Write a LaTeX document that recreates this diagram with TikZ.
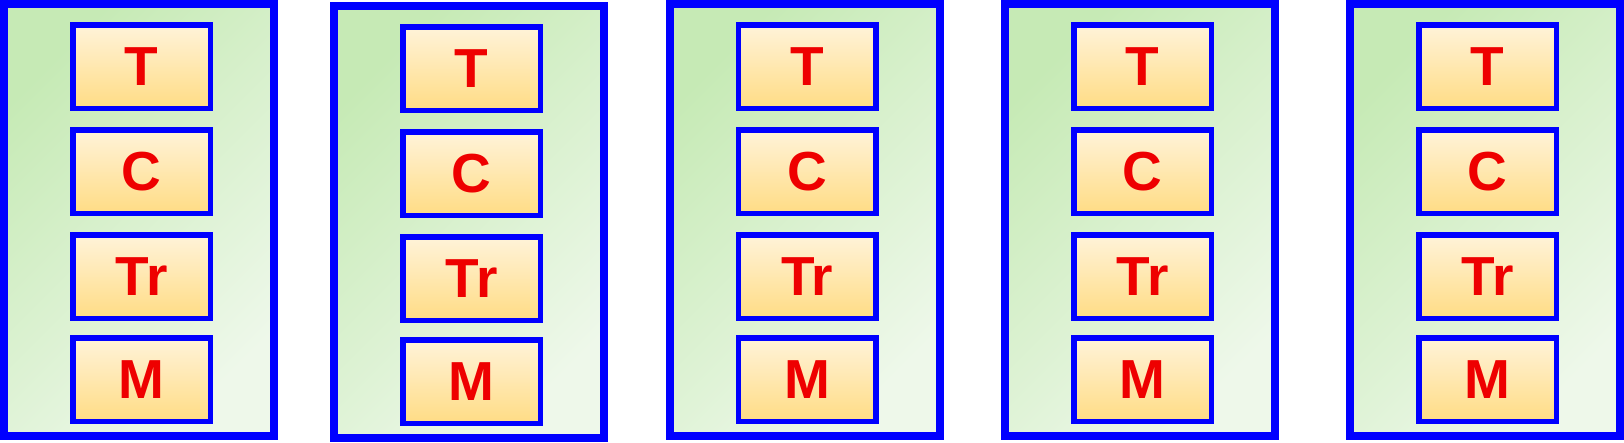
\documentclass[tikz,border=0pt]{standalone}
\usepackage{fontspec}
\setmainfont{Liberation Sans}
\definecolor{edgeblue}{HTML}{0000FF}
\definecolor{txtred}{HTML}{EE0000}
\definecolor{gTL}{HTML}{C6EAB5}
\definecolor{gBR}{HTML}{EEF8EA}
\definecolor{oTop}{HTML}{FFF3D9}
\definecolor{oBot}{HTML}{FFDC85}
\begin{document}
\begin{tikzpicture}[x=1pt,y=-1pt,
  panel/.style={draw=edgeblue, line width=8pt, top color=gTL, bottom color=gBR,
    shading angle=45, minimum width=270pt, minimum height=432pt, inner sep=0pt},
  layer/.style={draw=edgeblue, line width=5.5pt, top color=oTop, bottom color=oBot,
    minimum width=137.5pt, minimum height=83.5pt, inner sep=0pt, text=txtred,
    font=\fontsize{55}{64}\selectfont\bfseries}]
\useasboundingbox (0,0) rectangle (1624,442);
\foreach \i/\cx/\cy in {1/139/220, 2/469/222, 3/804.5/220, 4/1140/220, 5/1485/220} {
  \node[panel] (p\i) at (\cx,\cy) {};
  \node[layer] (p\i-t)  at (\cx+2.5, \cy-153.5) {T};
  \node[layer] (p\i-c)  at (\cx+2.5, \cy-48.5)  {C};
  \node[layer] (p\i-tr) at (\cx+2.5, \cy+56.5)  {Tr};
  \node[layer] (p\i-m)  at (\cx+2.5, \cy+159.5) {M};
}
\end{tikzpicture}
\end{document}
